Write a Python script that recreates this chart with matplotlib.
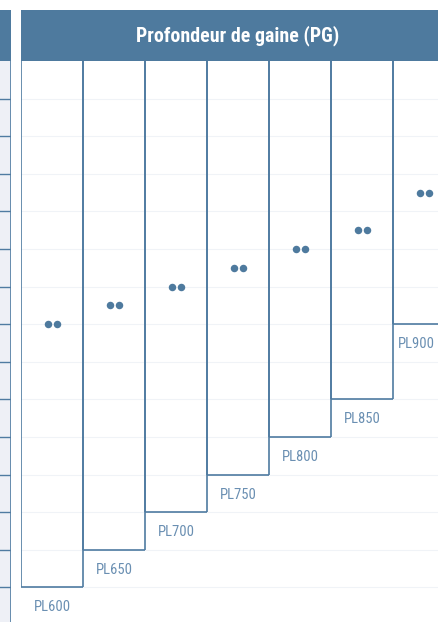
import matplotlib
matplotlib.use("Agg")
import matplotlib.pyplot as plt
from matplotlib import font_manager
from matplotlib.patches import Rectangle

# ---- data ----
labels = ["PL600", "PL650", "PL700", "PL750", "PL800", "PL850", "PL900"]
depth_rows = [14, 13, 12, 11, 10, 9, 7]   # column depth, in table rows
header_title = "Profondeur de gaine (PG)"
n_rows_visible = 14.92

# ---- style ----
HEAD = "#4e7a9e"
LINE = "#4f7ba1"
LABEL = "#6a8fb2"
PANEL = "#eef0f6"
FAINT = "#f0f3f7"

def pick_font(cands):
    for c in cands:
        try:
            font_manager.findfont(font_manager.FontProperties(family=c), fallback_to_default=False)
            return c
        except Exception:
            pass
    return "DejaVu Sans"

narrow = pick_font(["Roboto Condensed", "Liberation Sans Narrow", "Roboto"])

W, H = 438, 622
fig = plt.figure(figsize=(W / 100, H / 100), dpi=100)

def fx(px):
    return px / W

def fy(py):
    return 1 - py / H

head_top, head_bot = 9.5, 61.0
left_panel_r = 11.0
right_l = 21.0

# left panel (cropped table)
axL = fig.add_axes([0, 0, fx(left_panel_r), fy(head_bot)])
axL.set_xlim(0, 1)
axL.set_ylim(n_rows_visible, 0)
axL.axis("off")
axL.add_patch(Rectangle((0, 0), 1, n_rows_visible, color=PANEL, zorder=0))
for r in range(1, 15):
    axL.plot([0, 1], [r, r], color=LINE, lw=1.0, zorder=2)
axL.plot([0.97, 0.97], [0, n_rows_visible], color=LINE, lw=1.2, zorder=3)

# headers
axHL = fig.add_axes([0, fy(head_bot), fx(left_panel_r), (head_bot - head_top) / H])
axHL.set_facecolor(HEAD)
axHL.set_xticks([]); axHL.set_yticks([])
for s in axHL.spines.values():
    s.set_visible(False)

axHR = fig.add_axes([fx(right_l), fy(head_bot), 1 - fx(right_l), (head_bot - head_top) / H])
axHR.set_facecolor(HEAD)
axHR.set_xticks([]); axHR.set_yticks([])
for s in axHR.spines.values():
    s.set_visible(False)
axHR.text((237.5 - right_l) / (W - right_l), 0.5, header_title, color="white",
          fontsize=14.3, fontweight="bold", family=narrow,
          ha="center", va="center", transform=axHR.transAxes)

# right body
col_w_px = 62.0
ax = fig.add_axes([fx(right_l), 0, 1 - fx(right_l), fy(head_bot)])
xmax = (W - right_l) / col_w_px
ax.set_xlim(0, xmax)
ax.set_ylim(n_rows_visible, 0)
ax.axis("off")

for r in range(1, 15):
    ax.plot([0, 10], [r, r], color=FAINT, lw=0.8, zorder=0)

for i, (lab, d) in enumerate(zip(labels, depth_rows)):
    ax.plot([i + 0.008, i + 0.008], [0, d], color=LINE, lw=1.2, zorder=2, solid_capstyle="butt")
    ax.plot([i + 0.008, i + 1.008], [d, d], color=LINE, lw=1.2, zorder=2, solid_capstyle="butt")
    ax.plot([i + 1.008, i + 1.008], [0, d], color=LINE, lw=1.2, zorder=2, solid_capstyle="butt")
    ax.plot([i + 0.43, i + 0.575], [d / 2, d / 2], "o", color=HEAD, ms=5.4, mec="none", zorder=3)
    cx = i + 0.5
    if cx + 0.33 > xmax:
        ax.text(xmax - 0.05, d + 0.53, lab, color=LABEL, fontsize=10.5, family=narrow,
                ha="right", va="center")
    else:
        ax.text(cx, d + 0.53, lab, color=LABEL, fontsize=10.5, family=narrow,
                ha="center", va="center")

fig.savefig("out.png", dpi=100)
